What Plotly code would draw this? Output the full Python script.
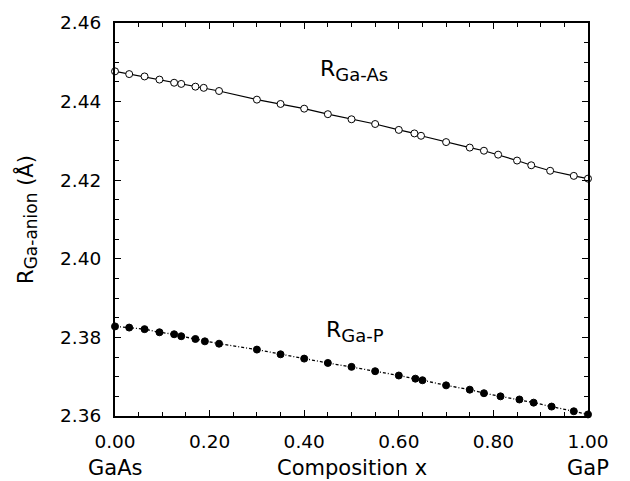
import plotly.graph_objects as go

# Composition x of GaAs(1-x)P(x) alloy and nearest-neighbour bond lengths (Å)
x_as = [0.0, 0.03, 0.0625, 0.094, 0.125, 0.14, 0.17, 0.1875, 0.22, 0.30, 0.35, 0.40,
        0.45, 0.50, 0.55, 0.60, 0.633, 0.647, 0.70, 0.75, 0.78, 0.81, 0.85, 0.88,
        0.92, 0.97, 1.0]
r_ga_as = [2.4477, 2.4470, 2.4464, 2.4456, 2.4448, 2.4445, 2.4438, 2.4435, 2.4427,
           2.4405, 2.4394, 2.4382, 2.4368, 2.4355, 2.4343, 2.4328, 2.4319, 2.4313,
           2.4297, 2.4283, 2.4275, 2.4265, 2.4250, 2.4238, 2.4224, 2.4211, 2.4204]

x_p = [0.0, 0.03, 0.0625, 0.094, 0.125, 0.14, 0.17, 0.19, 0.22, 0.30, 0.35, 0.40,
       0.45, 0.50, 0.55, 0.60, 0.635, 0.65, 0.70, 0.75, 0.78, 0.815, 0.855, 0.885,
       0.923, 0.97, 1.0]
r_ga_p = [2.3828, 2.3825, 2.3821, 2.3813, 2.3808, 2.3803, 2.3796, 2.3790, 2.3784,
          2.3769, 2.3757, 2.3746, 2.3735, 2.3725, 2.3714, 2.3703, 2.3695, 2.3691,
          2.3678, 2.3667, 2.3658, 2.3650, 2.3642, 2.3634, 2.3624, 2.3612, 2.3604]

x_ticks = [0.0, 0.2, 0.4, 0.6, 0.8, 1.0]
x_tick_text = ["0.00", "0.20", "0.40", "0.60", "0.80", "1.00"]
y_ticks = [2.36, 2.38, 2.40, 2.42, 2.44, 2.46]
y_tick_text = ["2.36", "2.38", "2.40", "2.42", "2.44", "2.46"]

FONT = "DejaVu Sans, Verdana, sans-serif"


def sub_label(main, sub, sub_size):
    return f"{main}<sub><span style='font-size:{sub_size}px'>{sub}</span></sub>"


fig = go.Figure()

fig.add_trace(go.Scatter(
    x=x_as, y=r_ga_as, mode="lines+markers",
    line=dict(color="black", width=1.2),
    marker=dict(symbol="circle", size=7, color="white",
                line=dict(color="black", width=1)),
    cliponaxis=False, showlegend=False,
))

fig.add_trace(go.Scatter(
    x=x_p, y=r_ga_p, mode="lines+markers",
    line=dict(color="black", width=1.3, dash="3px,2px,1px,2px"),
    marker=dict(symbol="circle", size=7, color="black",
                line=dict(color="black", width=1)),
    cliponaxis=False, showlegend=False,
))

axis_common = dict(
    showline=True, linecolor="black", linewidth=2, mirror="allticks",
    ticks="inside", ticklen=6, tickwidth=1, tickcolor="black",
    showgrid=False, zeroline=False,
    tickfont=dict(family=FONT, size=18.5, color="black"),
)

fig.update_xaxes(
    range=[0, 1], tickvals=x_ticks, ticktext=x_tick_text,
    minor=dict(dtick=0.05, ticks="inside", ticklen=4, tickcolor="black", showgrid=False),
    ticklabelstandoff=8,
    **axis_common,
)
fig.update_yaxes(
    range=[2.36, 2.46], tickvals=y_ticks, ticktext=y_tick_text,
    minor=dict(dtick=0.005, ticks="inside", ticklen=4, tickcolor="black", showgrid=False),
    ticklabelstandoff=8,
    title=dict(text=sub_label("R", "Ga-anion", 17) + " (Å)",
               font=dict(family=FONT, size=21, color="black"), standoff=21),
    **axis_common,
)

annotations = [
    dict(x=0.43, y=2.4478, xref="x", yref="y", text=sub_label("R", "Ga-As", 18),
         xanchor="left", yanchor="middle", showarrow=False,
         font=dict(family=FONT, size=22, color="black")),
    dict(x=0.4425, y=2.3815, xref="x", yref="y", text=sub_label("R", "Ga-P", 18),
         xanchor="left", yanchor="middle", showarrow=False,
         font=dict(family=FONT, size=22, color="black")),
    dict(x=0.0, y=0, xref="x", yref="paper", text="GaAs", yshift=-38,
         xanchor="center", yanchor="top", showarrow=False,
         font=dict(family=FONT, size=21, color="black")),
    dict(x=1.0, y=0, xref="x", yref="paper", text="GaP", yshift=-38,
         xanchor="center", yanchor="top", showarrow=False,
         font=dict(family=FONT, size=21, color="black")),
    dict(x=0.5, y=0, xref="x", yref="paper", text="Composition x", yshift=-38,
         xanchor="center", yanchor="top", showarrow=False,
         font=dict(family=FONT, size=21, color="black")),
]

fig.update_layout(
    width=630, height=481,
    margin=dict(l=114.5, r=42, t=14.5, b=64.5),
    paper_bgcolor="white", plot_bgcolor="white",
    annotations=annotations,
)

fig.write_html("out.html")
